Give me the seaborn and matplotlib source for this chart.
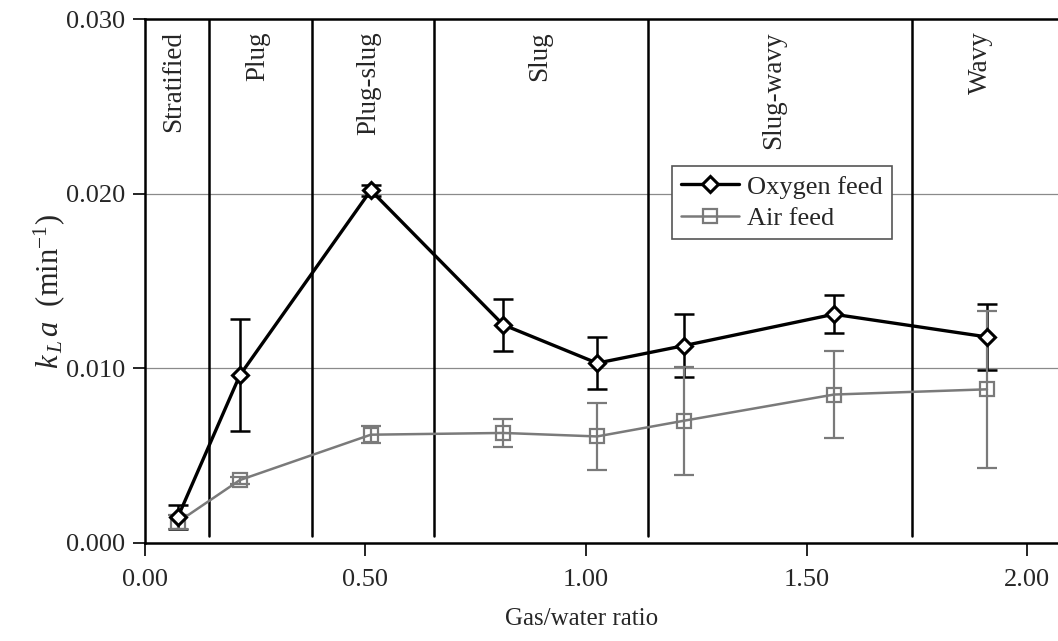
import numpy as np
import pandas as pd
import matplotlib
matplotlib.use("Agg")
import matplotlib.pyplot as plt
from matplotlib.lines import Line2D
import seaborn as sns

# Gas/water ratios at which kLa was measured
gas_water_ratio = [0.075, 0.215, 0.512, 0.812, 1.025, 1.222, 1.562, 1.909]

# Volumetric mass-transfer coefficient kLa (min^-1) and error-bar half widths
oxygen_kla = [0.0015, 0.0096, 0.0202, 0.0125, 0.0103, 0.0113, 0.0131, 0.0118]
oxygen_err = [0.0007, 0.0032, 0.0003, 0.0015, 0.0015, 0.0018, 0.0011, 0.0019]
air_kla = [0.0012, 0.0036, 0.0062, 0.0063, 0.0061, 0.0070, 0.0085, 0.0088]
air_err = [0.0004, 0.0002, 0.0005, 0.0008, 0.0019, 0.0031, 0.0025, 0.0045]

series_names = ["Oxygen feed", "Air feed"]

# Flow-regime boundaries and region names
regime_bounds = [0.145, 0.379, 0.655, 1.141, 1.739]
regime_names = ["Stratified", "Plug", "Plug-slug", "Slug", "Slug-wavy", "Wavy"]
regime_label_x = [0.065, 0.255, 0.507, 0.894, 1.425, 1.895]

x_ticks = [0.0, 0.5, 1.0, 1.5, 2.0]
y_ticks = [0.000, 0.010, 0.020, 0.030]

sns.set_style("white")
plt.rcParams["font.family"] = ["Liberation Serif", "DejaVu Serif"]
plt.rcParams["mathtext.fontset"] = "custom"
plt.rcParams["mathtext.rm"] = "Liberation Serif"
plt.rcParams["mathtext.it"] = "Liberation Serif:italic"

df = pd.DataFrame({
    "ratio": gas_water_ratio * 2,
    "kla": oxygen_kla + air_kla,
    "feed": [series_names[0]] * len(oxygen_kla) + [series_names[1]] * len(air_kla),
})

fig = plt.figure(figsize=(10.58, 6.41), dpi=100)
ax = fig.add_axes([0.137, 0.153, 0.863, 0.817])

x_max = 2.07
ax.set_xlim(0, x_max)
ax.set_ylim(0, 0.030)

# horizontal gridlines
for yv in y_ticks[1:3]:
    ax.axhline(yv, color="#8a8a8a", lw=0.9, zorder=1)

# regime boundaries
for xb in regime_bounds:
    ax.plot([xb, xb], [0.0004, 0.030], color="black", lw=1.8, zorder=2)

for name, xl in zip(regime_names, regime_label_x):
    ax.text(xl, 0.0293, name, rotation=90, ha="center", va="top", fontsize=19.5)

colors = {"Oxygen feed": "black", "Air feed": "#7a7a7a"}

# error bars
ax.errorbar(gas_water_ratio, oxygen_kla, yerr=oxygen_err, fmt="none",
            ecolor="black", elinewidth=1.8, capsize=7, capthick=1.8, zorder=3)
ax.errorbar(gas_water_ratio, air_kla, yerr=air_err, fmt="none",
            ecolor="#7a7a7a", elinewidth=1.6, capsize=7, capthick=1.6, zorder=3)

sns.lineplot(data=df[df.feed == "Air feed"], x="ratio", y="kla", ax=ax,
             color=colors["Air feed"], lw=1.8, marker="s", markersize=10,
             markerfacecolor="none", markeredgecolor="#7a7a7a",
             markeredgewidth=1.6, legend=False, zorder=4, sort=False)
sns.lineplot(data=df[df.feed == "Oxygen feed"], x="ratio", y="kla", ax=ax,
             color=colors["Oxygen feed"], lw=2.4, marker="D", markersize=8,
             markerfacecolor="white", markeredgecolor="black",
             markeredgewidth=2.2, legend=False, zorder=5, sort=False)

ax.set_xticks(x_ticks)
ax.set_xticklabels([f"{v:.2f}" for v in x_ticks])
ax.set_yticks(y_ticks)
ax.set_yticklabels([f"{v:.3f}" for v in y_ticks])
ax.tick_params(axis="both", which="both", labelsize=19, length=9, width=1.2,
               color="black", direction="out", left=True, bottom=True)
ax.tick_params(axis="x", pad=10)
ax.tick_params(axis="y", pad=5)

for side in ["left", "bottom", "top"]:
    ax.spines[side].set_visible(True)
    ax.spines[side].set_color("black")
    ax.spines[side].set_linewidth(1.8)
ax.spines["right"].set_visible(False)

ax.set_xlabel("Gas/water ratio", fontsize=18)
ax.xaxis.set_label_coords(0.478, -0.125)
ax.set_ylabel(r"$k_{\,L}\,a$  (min$^{\mathregular{-1}}$)", fontsize=22)
ax.yaxis.set_label_coords(-0.085, 0.48)

handles = [
    Line2D([], [], color="black", lw=2.4, marker="D", markersize=8,
           markerfacecolor="white", markeredgecolor="black", markeredgewidth=2.2),
    Line2D([], [], color="#7a7a7a", lw=1.8, marker="s", markersize=10,
           markerfacecolor="none", markeredgecolor="#7a7a7a", markeredgewidth=1.6),
]
leg = ax.legend(handles, series_names, loc="upper left",
                bbox_to_anchor=(0.577, 0.72), borderaxespad=0, fontsize=19,
                frameon=True, fancybox=False, edgecolor="#555555", framealpha=1,
                handlelength=2.2, handletextpad=0.3, borderpad=0.35,
                labelspacing=0.3)
leg.get_frame().set_linewidth(1.2)

fig.savefig("out.png", dpi=100)
